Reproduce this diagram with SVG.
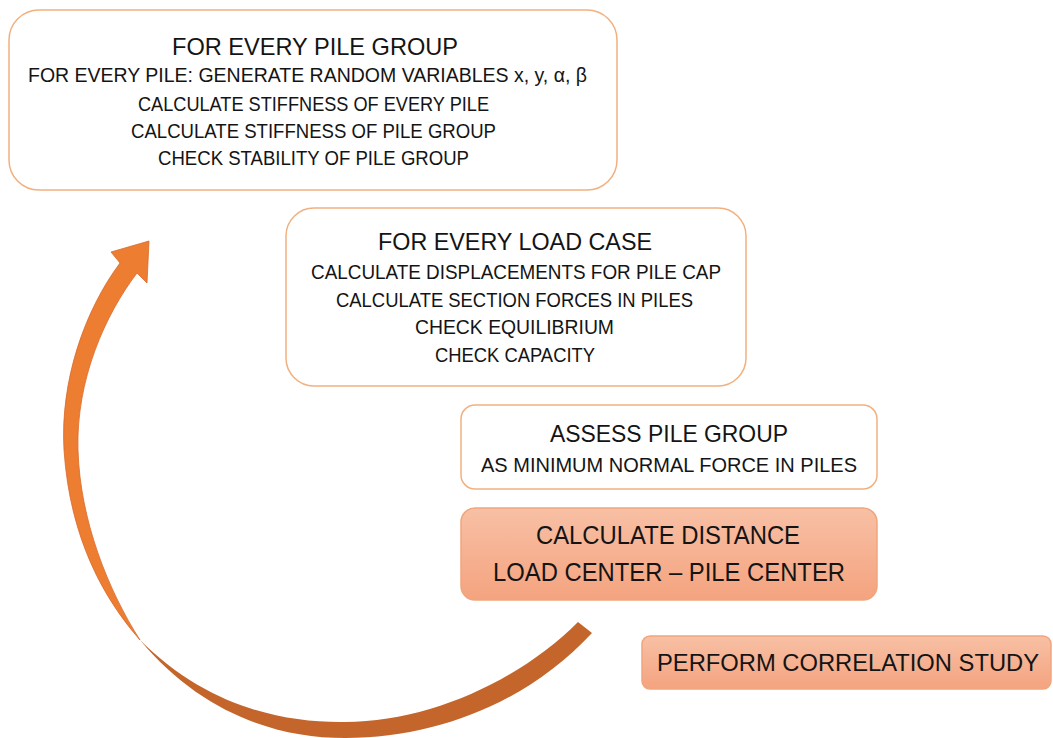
<svg xmlns="http://www.w3.org/2000/svg" width="1053" height="738" viewBox="0 0 1053 738">
  <defs>
    <linearGradient id="salmon" x1="0" y1="0" x2="0" y2="1">
      <stop offset="0" stop-color="#F8C0A5"/>
      <stop offset="1" stop-color="#F4A37F"/>
    </linearGradient>
    <style>
      .box { fill: #ffffff; stroke: #F2B07F; stroke-width: 1.5; }
      .boxf { fill: url(#salmon); stroke: #F1A57D; stroke-width: 1.5; }
      text { font-family: "Liberation Sans", Arial, sans-serif; fill: #141414; text-anchor: middle; }
      .h { font-size: 24px; }
      .b { font-size: 19.5px; }
      .big { font-size: 26px; }
      .wide { font-size: 24px; }
      .front { fill: #ED7D31; stroke: #D9692A; stroke-width: 0.8; }
      .back { fill: #C4662B; }
    </style>
  </defs>

  <rect width="1053" height="738" fill="#ffffff"/>

  <!-- curved loop arrow: dark back band, then the lighter front band with its head -->
  <g id="connectors">
    <path class="back" d="M140,640 C200,712 275,738 345,738 C440,738 530,700 592,633 L578,622 C520,680 430,722 345,722 C280,723 205,705 140,640 Z"/>
    <path class="front" d="M140,640 C105,600 70,540 64,450 C60,380 85,310 120,263 L111,252 L149,241 L147,283 L137,273 C105,315 76,380 78,450 C80,520 108,590 140,640 Z"/>
  </g>

  <g id="pile-group">
    <rect class="box" x="9" y="10" width="608" height="180" rx="30"/>
    <text class="h" x="315" y="54.5" textLength="286" lengthAdjust="spacingAndGlyphs">FOR EVERY PILE GROUP</text>
    <text class="b" x="307.5" y="82" textLength="559" lengthAdjust="spacingAndGlyphs">FOR EVERY PILE: GENERATE RANDOM VARIABLES x, y, α, β</text>
    <text class="b" x="313.5" y="110.5" textLength="351" lengthAdjust="spacingAndGlyphs">CALCULATE STIFFNESS OF EVERY PILE</text>
    <text class="b" x="313.5" y="138" textLength="365" lengthAdjust="spacingAndGlyphs">CALCULATE STIFFNESS OF PILE GROUP</text>
    <text class="b" x="313.5" y="165" textLength="311" lengthAdjust="spacingAndGlyphs">CHECK STABILITY OF PILE GROUP</text>
  </g>

  <g id="load-case">
    <rect class="box" x="286" y="208" width="460" height="178" rx="28"/>
    <text class="h" x="515" y="249.5" textLength="274" lengthAdjust="spacingAndGlyphs">FOR EVERY LOAD CASE</text>
    <text class="b" x="516" y="279" textLength="410" lengthAdjust="spacingAndGlyphs">CALCULATE DISPLACEMENTS FOR PILE CAP</text>
    <text class="b" x="514.5" y="307" textLength="357" lengthAdjust="spacingAndGlyphs">CALCULATE SECTION FORCES IN PILES</text>
    <text class="b" x="514.5" y="334" textLength="199" lengthAdjust="spacingAndGlyphs">CHECK EQUILIBRIUM</text>
    <text class="b" x="515" y="362" textLength="160" lengthAdjust="spacingAndGlyphs">CHECK CAPACITY</text>
  </g>

  <g id="assess">
    <rect class="box" x="461" y="405" width="416" height="84" rx="14"/>
    <text class="h" x="669" y="441.5" textLength="238" lengthAdjust="spacingAndGlyphs">ASSESS PILE GROUP</text>
    <text class="b" x="669" y="472" textLength="376" lengthAdjust="spacingAndGlyphs">AS MINIMUM NORMAL FORCE IN PILES</text>
  </g>

  <g id="distance">
    <rect class="boxf" x="461" y="508" width="416" height="92" rx="14"/>
    <text class="big" x="668" y="544" textLength="264" lengthAdjust="spacingAndGlyphs">CALCULATE DISTANCE</text>
    <text class="big" x="669" y="581" textLength="352" lengthAdjust="spacingAndGlyphs">LOAD CENTER – PILE CENTER</text>
  </g>

  <g id="correlation">
    <rect class="boxf" x="642" y="636" width="409" height="53" rx="8"/>
    <text class="wide" x="848" y="670.5" textLength="382" lengthAdjust="spacingAndGlyphs">PERFORM CORRELATION STUDY</text>
  </g>
</svg>
